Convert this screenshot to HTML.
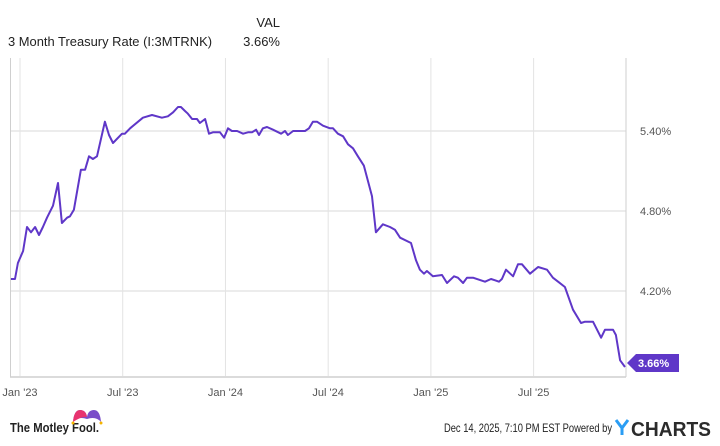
<!DOCTYPE html>
<html><head><meta charset="utf-8"><style>
body{margin:0;background:#fff;font-family:"Liberation Sans",sans-serif;}
svg text{font-family:"Liberation Sans",sans-serif;}
</style></head><body>
<svg width="720" height="441" viewBox="0 0 720 441">
<text x="280" y="27" font-size="13" fill="#222" text-anchor="end">VAL</text>
<text x="8" y="46" font-size="13" fill="#222" textLength="204" lengthAdjust="spacingAndGlyphs">3 Month Treasury Rate (I:3MTRNK)</text>
<text x="280" y="46" font-size="13" fill="#222" text-anchor="end">3.66%</text>
<g id="grid"></g>
<g id="axes"></g>
<polyline id="line" fill="none" stroke="#5f37c8" stroke-width="2" stroke-linejoin="round"/>
<g id="marker"></g>
<g>
<text x="10" y="432" font-size="13" font-weight="bold" fill="#222" textLength="89" lengthAdjust="spacingAndGlyphs">The Motley Fool.</text>
<path d="M73 422 Q74 410 80 410 Q86 410 87 417 Q88 410 94 410 Q100 410 101 422 Q96 416 87 419 Q78 416 73 422 Z" fill="#7a4cc9"/>
<path d="M73 422 Q74 410 80 410 Q86 410 87 417 Q82 416 73 422 Z" fill="#e8336f"/>
<circle cx="73" cy="423" r="1.5" fill="#f5b400"/><circle cx="101" cy="423" r="1.5" fill="#f5b400"/>
</g>
<text x="444" y="432" font-size="12" fill="#222" textLength="168" lengthAdjust="spacingAndGlyphs">Dec 14, 2025, 7:10 PM EST Powered by</text>
<g>
<path d="M616 420 l6 8 l6 -8 M622 428 v7" stroke="#2a9df4" stroke-width="3" fill="none"/>
<text x="631" y="436" font-size="20" font-weight="bold" fill="#2b2b2b" textLength="80" lengthAdjust="spacingAndGlyphs">CHARTS</text>
</g>
</svg>
<script>
const months=[-0.53,-0.29,-0.12,0.18,0.41,0.64,0.88,1.11,1.34,1.58,1.93,2.22,2.45,2.75,2.92,3.15,3.56,3.80,4.03,4.26,4.50,4.96,5.20,5.43,5.96,6.13,6.43,7.18,7.71,8.29,8.64,8.94,9.23,9.40,9.64,9.81,10.05,10.34,10.51,10.81,11.04,11.27,11.68,11.92,12.15,12.38,12.68,13.03,13.32,13.55,13.79,13.96,14.19,14.43,14.78,15.25,15.48,15.65,15.95,16.65,16.88,17.11,17.35,17.70,18.11,18.28,18.57,18.87,19.16,19.45,19.74,20.09,20.56,20.79,21.20,21.61,21.90,22.20,22.84,23.13,23.36,23.60,23.77,24.12,24.65,24.94,25.35,25.58,25.88,26.11,26.46,27.16,27.51,27.75,27.98,28.15,28.39,28.80,29.09,29.32,29.79,30.26,30.78,31.13,31.43,31.83,32.30,32.77,33.00,33.47,33.94,34.17,34.64,34.81,35.05,35.34];
const rates=[4.29,4.29,4.41,4.50,4.68,4.64,4.68,4.62,4.68,4.75,4.84,5.01,4.71,4.75,4.76,4.81,5.11,5.11,5.21,5.19,5.21,5.47,5.37,5.31,5.38,5.38,5.42,5.50,5.52,5.50,5.51,5.54,5.58,5.58,5.55,5.53,5.49,5.49,5.46,5.49,5.38,5.39,5.39,5.35,5.42,5.40,5.40,5.38,5.39,5.39,5.41,5.37,5.42,5.43,5.41,5.38,5.40,5.37,5.40,5.40,5.42,5.47,5.47,5.44,5.42,5.42,5.38,5.36,5.30,5.27,5.21,5.14,4.91,4.64,4.70,4.68,4.66,4.60,4.56,4.43,4.36,4.33,4.35,4.31,4.32,4.26,4.31,4.30,4.26,4.30,4.30,4.27,4.29,4.28,4.27,4.29,4.36,4.31,4.40,4.40,4.33,4.38,4.36,4.30,4.27,4.23,4.06,3.96,3.97,3.97,3.85,3.91,3.91,3.87,3.68,3.63];
const yTicks=[5.40,4.80,4.20];
const xTickMonths=[0,6,12,18,24,30];
const xTickLabels=["Jan '23","Jul '23","Jan '24","Jul '24","Jan '25","Jul '25"];
const lastValue="3.66%";
const lastRate=3.66;
const NS="http://www.w3.org/2000/svg";
const X=m=>20+m*17.12;
const Y=v=>131+(5.40-v)*133.33;
function mk(tag,attrs,parent){const e=document.createElementNS(NS,tag);for(const k in attrs)e.setAttribute(k,attrs[k]);parent.appendChild(e);return e;}
const grid=document.getElementById('grid'),axes=document.getElementById('axes');
yTicks.forEach(t=>{
 const l=mk('line',{x1:10,x2:626,y1:Y(t),y2:Y(t),stroke:'#e6e6e6','stroke-width':1.5},grid);
 
 
 const tx=mk('text',{x:640,y:Y(t)+4,'font-size':11,fill:'#555'},axes);
 tx.textContent=t.toFixed(2)+'%';
 
 
});
xTickMonths.forEach((m,i)=>{
 const l=mk('line',{x1:X(m),x2:X(m),y1:58,y2:376,stroke:'#e3e3e3','stroke-width':1},grid);
 
 
 const tx=mk('text',{x:X(m),y:396,'font-size':11,fill:'#555','text-anchor':'middle'},axes);
 tx.textContent=xTickLabels[i];
 
 
});
const ax=mk('line',{x1:10,x2:626,y1:377,y2:377,stroke:'#cfcfcf','stroke-width':1.5},axes);


const ra=mk('line',{x1:626,x2:626,y1:58,y2:377,stroke:'#cfcfcf','stroke-width':1},axes);


const la=mk('line',{x1:10.5,x2:10.5,y1:58,y2:377,stroke:'#cfcfcf','stroke-width':1},axes);


document.getElementById('line').setAttribute('points',months.map((m,i)=>X(m).toFixed(1)+','+Y(rates[i]).toFixed(1)).join(' '));
const my=Y(lastRate),mg=document.getElementById('marker');
const p=mk('path',{d:`M627 ${my} L636 ${my-9} L679 ${my-9} L679 ${my+9} L636 ${my+9} Z`,fill:'#5f37c8'},mg);


const mt=mk('text',{x:638,y:my+4,'font-size':11,'font-weight':'bold',fill:'#fff'},mg);
mt.textContent=lastValue;


</script>
</body></html>
